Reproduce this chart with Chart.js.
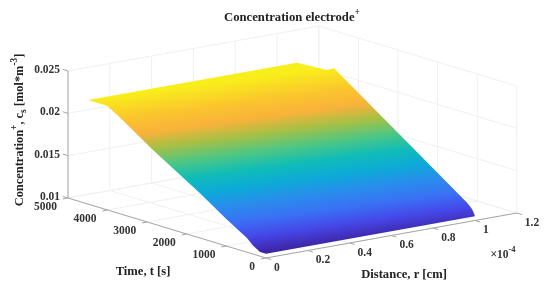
<!DOCTYPE html>
<html>
<head>
<meta charset="utf-8">
<title>Concentration electrode</title>
<script src="https://cdn.jsdelivr.net/npm/chart.js@4"></script>
<style>
    html, body { margin: 0; padding: 0; background: #fff; }
    canvas { display: block; }
</style>
</head>
<body>
<canvas id="chart" width="550" height="291"></canvas>
<script>
// tick values of the three axes
const rTicks = [0, 0.2e-4, 0.4e-4, 0.6e-4, 0.8e-4, 1e-4, 1.2e-4];
const rTickLabels = ['0', '0.2', '0.4', '0.6', '0.8', '1', '1.2'];
const tTicks = [0, 1000, 2000, 3000, 4000, 5000];
const tTickLabels = ['0', '1000', '2000', '3000', '4000', '5000'];
const zTicks = [0.01, 0.015, 0.02, 0.025];
const zTickLabels = ['0.01', '0.015', '0.02', '0.025'];

// surface edges: concentration against time at r = 0 and r = 1e-4
const rEdge = [0, 1e-4];
const tNear = [0, 150, 330, 480, 660, 1035, 1667, 2854, 3636, 3813, 4015, 4495];
const zNear = [0.0105, 0.0105, 0.0110, 0.01168, 0.0122, 0.0133, 0.0153, 0.01872, 0.0212, 0.02172, 0.02228, 0.02228];
const tFar = [0, 35, 76, 200, 1641, 3560, 3745, 4495];
const zFar = [0.0105, 0.0109, 0.01125, 0.0118, 0.01659, 0.02293, 0.02247, 0.02227];

// parula as it looks in the picture, low to high
const parula = ['#3e26a8', '#4645e6', '#3a70f5', '#2a8cec', '#0da9d8', '#10bcb8', '#4ec684', '#a5c045', '#f8b23a', '#fbc42e', '#f8ee1a'];

const gridColor = '#f0f0f0';
const axisColor = '#a6a6a6';
const textColor = '#333333';
const serif = '"Liberation Serif", "Times New Roman", serif';

// oblique view of the axes box, in canvas pixels (the x/y scales run 0-550 and 0-291)
function project(r, t, z) {
    return {
        x: 266 + r / 1e-4 * 209 - t / 1000 * 39.6,
        y: 258 - r / 1e-4 * 37.5 - t / 1000 * 12 - (z - 0.01) / 0.005 * 42.33
    };
}

function lineDataset(points, color) {
    return {
        data: points,
        showLine: true,
        borderColor: color,
        borderWidth: 1,
        pointRadius: 0,
        fill: false
    };
}

function surfacePoints() {
    const pts = [];
    for (let i = tNear.length - 1; i >= 0; i--) {
        pts.push(project(rEdge[0], tNear[i], zNear[i]));
    }
    for (let i = 0; i < tFar.length; i++) {
        pts.push(project(rEdge[1], tFar[i], zFar[i]));
    }
    return pts;
}

// time at which an edge reaches a given concentration
function timeAt(ts, zs, z) {
    for (let i = 1; i < ts.length; i++) {
        if (z <= zs[i] && zs[i] > zs[i - 1]) {
            return ts[i - 1] + (z - zs[i - 1]) / (zs[i] - zs[i - 1]) * (ts[i] - ts[i - 1]);
        }
    }
    return ts[ts.length - 1];
}

// colour bands run across the surface, so the gradient is taken across an iso line
function surfaceGradient(ctx) {
    const zLow = 0.0105, zHigh = 0.0224;
    const zMid = 0.0186;
    const a = project(rEdge[0], timeAt(tNear, zNear, zMid), zMid);
    const b = project(rEdge[1], timeAt(tFar, zFar, zMid), zMid);
    const len = Math.hypot(b.x - a.x, b.y - a.y);
    const nx = (b.y - a.y) / len, ny = -(b.x - a.x) / len;
    const along = p => (p.x - a.x) * nx + (p.y - a.y) * ny;

    const low = project(rEdge[0], timeAt(tNear, zNear, zLow), zLow);
    const high = project(rEdge[0], timeAt(tNear, zNear, zHigh), zHigh);
    const s0 = along(low), s1 = along(high);
    const gradient = ctx.createLinearGradient(a.x + nx * s0, a.y + ny * s0, a.x + nx * s1, a.y + ny * s1);

    parula.forEach((color, i) => {
        const z = zLow + i / (parula.length - 1) * (zHigh - zLow);
        const s = along(project(rEdge[0], timeAt(tNear, zNear, z), z));
        gradient.addColorStop(Math.min(1, Math.max(0, (s - s0) / (s1 - s0))), color);
    });
    return gradient;
}

function buildDatasets(ctx) {
    const rMax = rTicks[rTicks.length - 1];
    const tMax = tTicks[tTicks.length - 1];
    const zMin = zTicks[0];
    const zMax = zTicks[zTicks.length - 1];
    const sets = [];

    sets.push({
        data: surfacePoints(),
        showLine: true,
        borderWidth: 0,
        borderColor: 'rgba(0,0,0,0)',
        pointRadius: 0,
        fill: 'shape',
        backgroundColor: surfaceGradient(ctx)
    });

    // axis lines and ticks
    sets.push(lineDataset([project(0, tMax, zMin), project(0, tMax, zMax)], axisColor));
    sets.push(lineDataset([project(0, 0, zMin), project(0, tMax, zMin)], axisColor));
    sets.push(lineDataset([project(0, 0, zMin), project(rMax, 0, zMin)], axisColor));
    zTicks.forEach(z => sets.push(lineDataset([project(0, tMax, z), project(0, tMax + 130, z)], axisColor)));
    tTicks.forEach(t => sets.push(lineDataset([project(0, t, zMin), project(-0.025e-4, t, zMin)], axisColor)));
    rTicks.forEach(r => sets.push(lineDataset([project(r, 0, zMin), project(r, -130, zMin)], axisColor)));

    // walls and floor grid
    zTicks.forEach(z => {
        sets.push(lineDataset([project(0, tMax, z), project(rMax, tMax, z), project(rMax, 0, z)], gridColor));
    });
    rTicks.forEach(r => {
        sets.push(lineDataset([project(r, 0, zMin), project(r, tMax, zMin), project(r, tMax, zMax)], gridColor));
    });
    tTicks.forEach(t => {
        sets.push(lineDataset([project(0, t, zMin), project(rMax, t, zMin), project(rMax, t, zMax)], gridColor));
    });
    return sets;
}

// text with raised or lowered parts; parts are [text, shift] and shift != 0 means a small font
function drawRich(ctx, parts, x, y, size, rotation) {
    ctx.save();
    ctx.translate(x, y);
    ctx.rotate(rotation);
    ctx.textAlign = 'left';
    ctx.textBaseline = 'middle';
    let width = 0;
    parts.forEach(p => {
        ctx.font = `bold ${p[1] ? size * 0.75 : size}px ${serif}`;
        width += ctx.measureText(p[0]).width;
    });
    let pos = -width / 2;
    parts.forEach(p => {
        ctx.font = `bold ${p[1] ? size * 0.75 : size}px ${serif}`;
        ctx.fillText(p[0], pos, p[1]);
        pos += ctx.measureText(p[0]).width;
    });
    ctx.restore();
}

const axisText = {
    id: 'axisText',
    afterDraw(chart) {
        const ctx = chart.ctx;
        const sx = chart.scales.x, sy = chart.scales.y;
        const px = p => ({ x: sx.getPixelForValue(p.x), y: sy.getPixelForValue(p.y) });
        const tMax = tTicks[tTicks.length - 1];
        ctx.save();
        ctx.fillStyle = textColor;
        ctx.textBaseline = 'middle';
        ctx.font = `bold 11.5px ${serif}`;

        ctx.textAlign = 'right';
        zTicks.forEach((z, i) => {
            const p = px(project(0, tMax, z));
            ctx.fillText(zTickLabels[i], p.x - 8, p.y - 1);
        });
        tTicks.forEach((t, i) => {
            const p = px(project(0, t, zTicks[0]));
            ctx.fillText(tTickLabels[i], p.x - 11, p.y + 9);
        });
        ctx.textAlign = 'left';
        rTicks.forEach((r, i) => {
            const p = px(project(r, 0, zTicks[0]));
            ctx.fillText(rTickLabels[i], p.x + 8, p.y + 10);
        });

        drawRich(ctx, [['×10', 0], ['-4', -5]], 503, 255, 11.5, 0);
        ctx.fillStyle = '#222222';
        drawRich(ctx, [['Time, t [s]', 0]], 143, 272, 12.6, 0);
        drawRich(ctx, [['Distance, r [cm]', 0]], 404, 275, 12.6, 0);
        drawRich(ctx, [['Concentration', 0], ['+', -5], [', c', 0], ['s', 4], [' [mol*m', 0], ['-3', -5], [']', 0]],
            20, 130, 12.4, -Math.PI / 2);
        drawRich(ctx, [['Concentration electrode', 0], ['+', -5]], 292, 18, 12.7, 0);
        ctx.restore();
    }
};

const canvas = document.getElementById('chart');
const ctx = canvas.getContext('2d');

new Chart(ctx, {
    type: 'scatter',
    data: { datasets: buildDatasets(ctx) },
    options: {
        responsive: false,
        animation: false,
        layout: { padding: 0 },
        plugins: { legend: { display: false }, tooltip: { enabled: false }, title: { display: false } },
        scales: {
            x: { type: 'linear', min: 0, max: 550, display: false },
            y: { type: 'linear', min: 0, max: 291, reverse: true, display: false }
        }
    },
    plugins: [axisText]
});
</script>
</body>
</html>
